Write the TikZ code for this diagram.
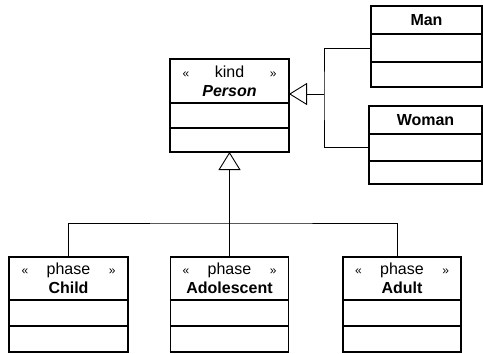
\documentclass[tikz,border=0pt]{standalone}
\usepackage{fontspec}
\setmainfont{Liberation Sans}
\usetikzlibrary{positioning}
\usetikzlibrary{arrows.meta}

\tikzset{
  cls/.style={draw, line width=1.1pt, outer sep=0pt, inner sep=0pt, align=center, font=\fontsize{16}{19}\selectfont},
  comp/.style={draw, line width=1.1pt, outer sep=0pt, inner sep=0pt},
  gen/.style={-{Triangle[open,length=18pt,width=22pt]}, line width=0.9pt},
  link/.style={line width=0.9pt},
  sep/.style={line width=1.9pt}
}
\newcommand{\stereo}[1]{\makebox[94pt]{{\fontsize{12}{12}\selectfont«}\hfill #1\hfill{\fontsize{12}{12}\selectfont»}}}

\begin{document}
\begin{tikzpicture}[x=1pt,y=-1pt]
\useasboundingbox (0,0) rectangle (483,354);
% kind
\node[cls, minimum width=119pt, minimum height=44pt] (person) at (229.5,81) {\stereo{kind}\\\textbf{\textit{Person}}};
\node[comp, minimum width=119pt, minimum height=25pt, below=0pt of person] (person-a) {};
\node[comp, minimum width=119pt, minimum height=24pt, below=0pt of person-a] (person-o) {};
\draw[sep] (person.south west) -- (person.south east);

% subkinds
\node[cls, minimum width=111pt, minimum height=28pt] (man) at (426.5,20) {\textbf{Man}};
\node[comp, minimum width=111pt, minimum height=28pt, below=0pt of man] (man-a) {};
\node[comp, minimum width=111pt, minimum height=25pt, below=0pt of man-a] (man-o) {};
\node[cls, minimum width=113pt, minimum height=28pt] (woman) at (425.5,120) {\textbf{Woman}};
\node[comp, minimum width=113pt, minimum height=27pt, below=0pt of woman] (woman-a) {};
\node[comp, minimum width=113pt, minimum height=23pt, below=0pt of woman-a] (woman-o) {};

% phases
\node[cls, minimum width=119pt, minimum height=43pt] (child) at (68.5,278.5) {\stereo{phase}\\\textbf{Child}};
\node[comp, minimum width=119pt, minimum height=26pt, below=0pt of child] (child-a) {};
\node[comp, minimum width=119pt, minimum height=26pt, below=0pt of child-a] (child-o) {};
\draw[sep] (child.south west) -- (child.south east);

\node[cls, minimum width=118pt, minimum height=43pt] (adolescent) at (229.5,278.5) {\stereo{phase}\\\textbf{Adolescent}};
\node[comp, minimum width=118pt, minimum height=26pt, below=0pt of adolescent] (adolescent-a) {};
\node[comp, minimum width=118pt, minimum height=26pt, below=0pt of adolescent-a] (adolescent-o) {};

\node[cls, minimum width=118pt, minimum height=43pt] (adult) at (402,278.5) {\stereo{phase}\\\textbf{Adult}};
\node[comp, minimum width=118pt, minimum height=26pt, below=0pt of adult] (adult-a) {};
\node[comp, minimum width=118pt, minimum height=26pt, below=0pt of adult-a] (adult-o) {};

% generalizations
\coordinate (rj) at (324,94);
\draw[link] (man-a.west) -| (rj) |- (woman-a.west);
\draw[gen] (rj) -- (rj -| person.east);
\coordinate (bj) at (229.5,223);
\draw[link] (child.north) |- (bj) -| ([xshift=-5pt]adult.north);
\draw[gen] (adolescent.north) -- (person-o.south);
\end{tikzpicture}
\end{document}
